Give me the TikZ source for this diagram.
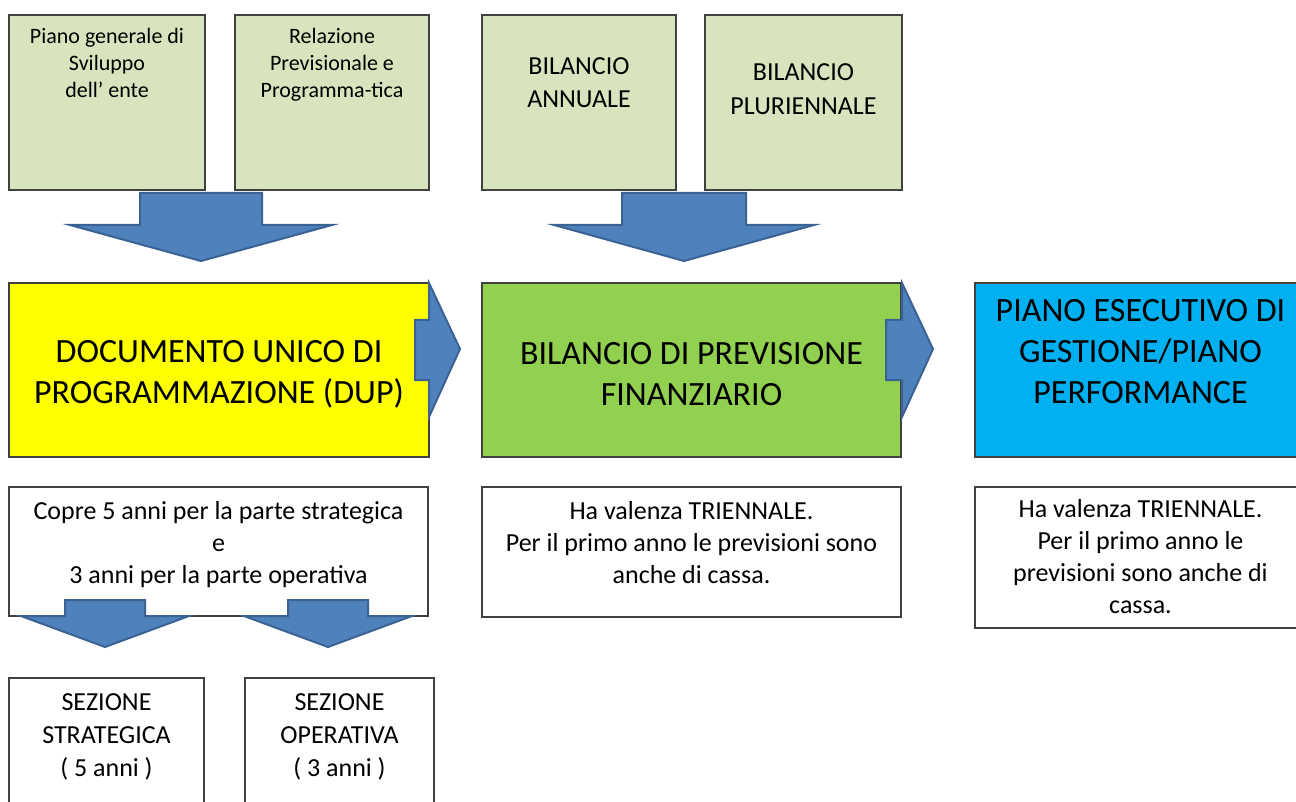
\documentclass[tikz,border=0pt]{standalone}
\usepackage{fontspec}
\setmainfont{Carlito}
\usetikzlibrary{positioning}

\definecolor{topgreen}{HTML}{D7E4BD}
\definecolor{dupyellow}{HTML}{FFFF00}
\definecolor{bilgreen}{HTML}{92D050}
\definecolor{pegblue}{HTML}{00B0F0}
\definecolor{arrblue}{HTML}{4F81BD}
\definecolor{arrdark}{HTML}{3B6294}
\definecolor{boxgray}{HTML}{404040}

\begin{document}
\begin{tikzpicture}[x=1pt, y=-1pt,
        X/.style={draw=boxgray, line width=2pt, inner sep=0pt, outer sep=0pt, anchor=north west},
        P/.style={X, fill=topgreen, minimum height=175pt},
        M/.style={X, minimum height=174pt},
        D/.style={X, fill=white},
        S/.style={align=center, inner sep=0pt},
        small/.style={S, font=\fontsize{22}{27}\selectfont},
        big/.style={S, font=\fontsize{34}{41}\selectfont},
        mid/.style={S, font=\fontsize{26}{32}\selectfont},
        arr/.style={fill=arrblue, draw=arrdark, line width=2pt, line join=miter}
    ]

    \useasboundingbox (0,0) rectangle (1296,802);

    % top row
    \node[P, minimum width=196pt] (pgs) at (9,15) {};
    \node[P, minimum width=194pt] (rpp) at (235,15) {};
    \node[P, minimum width=194pt] (ba) at (482,15) {};
    \node[P, minimum width=197pt] (bp) at (705,15) {};

    \node[small, below=13pt of pgs.north] (pgsT) {Piano generale di\\Sviluppo\\dell’ ente};
    \node[small, below=13pt of rpp.north] (rppT) {Relazione\\Previsionale e\\Programma-tica};
    \node[mid, below=42pt of ba.north, font=\fontsize{26}{33}\selectfont] (baT) {BILANCIO\\ANNUALE};
    \node[mid, below=48pt of bp.north, font=\fontsize{26}{34}\selectfont] (bpT) {BILANCIO\\PLURIENNALE};

    % middle row
    \node[M, fill=dupyellow, minimum width=420pt] (dup) at (9,283) {};
    \node[M, fill=bilgreen, minimum width=419pt] (bil) at (482,283) {};
    \node[M, fill=pegblue, minimum width=331pt] (peg) at (975,283) {};

    \node[big, below=57pt of dup.north] (dupT) {DOCUMENTO UNICO DI\\PROGRAMMAZIONE (DUP)};
    \node[big, below=59pt of bil.north] (bilT) {BILANCIO DI PREVISIONE\\FINANZIARIO};
    \node[big, below=16pt of peg.north] (pegT) {PIANO ESECUTIVO DI\\GESTIONE/PIANO\\PERFORMANCE};

    % descriptions
    \node[D, minimum width=419pt, minimum height=129pt] (dupd) at (9,487) {};
    \node[D, minimum width=419pt, minimum height=130pt] (bild) at (482,487) {};
    \node[D, minimum width=331pt, minimum height=141pt] (pegd) at (975,487) {};

    \node[mid, below=14pt of dupd.north] (dupdT)
        {Copre 5 anni per la parte strategica\\e\\3 anni per la parte operativa};
    \node[mid, below=14pt of bild.north] (bildT)
        {Ha valenza TRIENNALE.\\Per il primo anno le previsioni sono\\anche di cassa.};
    \node[mid, below=12pt of pegd.north] (pegdT)
        {Ha valenza TRIENNALE.\\Per il primo anno le\\previsioni sono anche di\\cassa.};

    % sections
    \node[D, minimum width=195pt, minimum height=140pt] (ss) at (9,678) {};
    \node[D, minimum width=189pt, minimum height=140pt] (so) at (245,678) {};

    \node[mid, below=15pt of ss.north, font=\fontsize{26}{33}\selectfont] (ssT) {SEZIONE\\STRATEGICA\\( 5 anni )};
    \node[mid, below=15pt of so.north, font=\fontsize{26}{33}\selectfont] (soT) {SEZIONE\\OPERATIVA\\( 3 anni )};

    % block arrows
    \foreach \cx/\ws/\wh/\ys/\yh/\yt in {201/61/131/193/225/261, 684/62/130/193/225/261,
            105/40/84/600/616/647, 328/40/84/600/616/647}{
        \draw[arr] ({\cx-\ws},\ys) -- ({\cx+\ws},\ys) -- ({\cx+\ws},\yh) -- ({\cx+\wh},\yh)
            -- (\cx,\yt) -- ({\cx-\wh},\yh) -- ({\cx-\ws},\yh) -- cycle;
    }
    \foreach \xs/\xh/\xt in {415/429/460, 886/902/933}{
        \draw[arr] (\xs,320) -- (\xh,320) -- (\xh,283) -- (\xt,349) -- (\xh,417)
            -- (\xh,380) -- (\xs,380) -- cycle;
    }
\end{tikzpicture}
\end{document}
